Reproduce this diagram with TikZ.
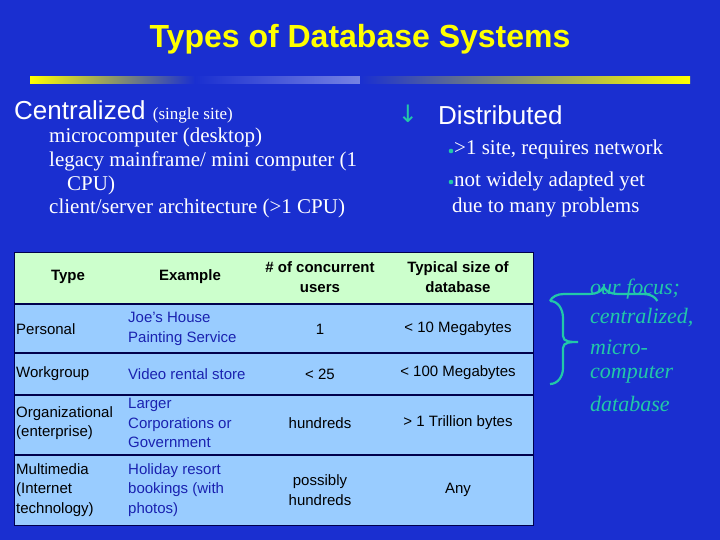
\documentclass[tikz,border=0pt]{standalone}
\usepackage{fontspec}
\setmainfont{Liberation Serif}
\setsansfont{Liberation Sans}
\newfontfamily\dejavu{DejaVu Sans}
\usetikzlibrary{decorations.pathreplacing}
\definecolor{bg}{HTML}{1A2FD0}
\definecolor{ttl}{HTML}{FFFF00}
\definecolor{teal2}{HTML}{22C8A8}
\definecolor{hdr}{HTML}{CCFFCC}
\definecolor{cell}{HTML}{99CCFF}
\definecolor{ex}{HTML}{1A22B0}
\tikzset{
 serifline/.style={anchor=west,text=white,font=\fontsize{21}{22}\selectfont,inner sep=0},
 tc/.style={font=\sffamily\fontsize{15}{19.5}\selectfont,text=black,inner sep=0,align=left},
 tcc/.style={font=\sffamily\fontsize{15}{19.5}\selectfont,text=black,inner sep=0,align=center},
 th/.style={font=\sffamily\bfseries\fontsize{15}{19.5}\selectfont,text=black,inner sep=0,align=center},
 rowline/.style={draw=black!70!blue,line width=1.2pt},
 focus/.style={anchor=west,text=teal2,font=\itshape\fontsize{22}{24}\selectfont,inner sep=0}
}
\begin{document}
\begin{tikzpicture}[x=1pt,y=-1pt]
\fill[bg] (0,0) rectangle (720,540);
\useasboundingbox (0,0) rectangle (720,540);
\node[text=ttl,font=\sffamily\bfseries\fontsize{32}{34}\selectfont] (title) at (360,39) {Types of Database Systems};
\shade[left color=ttl,right color=bg!60!white,middle color=bg] (30,77) rectangle (360,84);
\shade[left color=bg,right color=ttl] (360,77) rectangle (690,84);
% left
\node[anchor=west,text=white,inner sep=0] (cent) at (14,112) {\sffamily\fontsize{26}{28}\selectfont Centralized \rmfamily\fontsize{17}{18}\selectfont(single site)};
\node[serifline] (l1) at (49,137) {microcomputer (desktop)};
\node[serifline] (l2) at (49,161) {legacy mainframe/ mini computer (1};
\node[serifline] (l3) at (67,185) {CPU)};
\node[serifline] (l4) at (49,208) {client/server architecture (>1 CPU)};
% right
\node[text=teal2,font=\dejavu\fontsize{24}{26}\selectfont,inner sep=0] (arr) at (408,114) {↓};
\node[anchor=west,text=white,font=\sffamily\fontsize{26}{28}\selectfont,inner sep=0] (dist) at (438,115) {Distributed};
\fill[teal2] (451,151) circle (2.3);
\fill[teal2] (451,182) circle (2.3);
\node[serifline] (r1) at (454,149) {>1 site, requires network};
\node[serifline] (r2) at (454,181) {not widely adapted yet};
\node[serifline] (r3) at (452,207) {due to many problems};
% table
\fill[hdr] (14,252) rectangle (533,304);
\fill[cell] (14,304) rectangle (533,525);
\draw[rowline] (14,304) -- (533,304);
\draw[rowline] (14,353) -- (533,353);
\draw[rowline] (14,395) -- (533,395);
\draw[rowline] (14,455) -- (533,455);
\draw[draw=black!70!blue,line width=1pt] (14,252) rectangle (533,525);
\node[th] (h1) at (68,277) {Type};
\node[th] (h2) at (190,277) {Example};
\node[th] (h3) at (320,277) {\# of concurrent\\users};
\node[th] (h4) at (458,277) {Typical size of\\database};
\node[tc,anchor=west] (a1) at (16,329) {Personal};
\node[tc,anchor=west,text=ex] (b1) at (128,329) {Joe's House\\Painting Service};
\node[tcc] (c1) at (320,329) {1};
\node[tcc] (d1) at (458,329) {< 10 Megabytes};
\node[tc,anchor=west] (a2) at (16,374) {Workgroup};
\node[tc,anchor=west,text=ex] (b2) at (128,374) {Video rental store};
\node[tcc] (c2) at (320,374) {< 25};
\node[tcc] (d2) at (458,373) {< 100 Megabytes};
\node[tc,anchor=west] (a3) at (16,423) {Organizational\\(enterprise)};
\node[tc,anchor=west,text=ex] (b3) at (128,423) {Larger\\Corporations or\\Government};
\node[tcc] (c3) at (320,423) {hundreds};
\node[tcc] (d3) at (458,423) {> 1 Trillion bytes};
\node[tc,anchor=west] (a4) at (16,490) {Multimedia\\(Internet\\technology)};
\node[tc,anchor=west,text=ex] (b4) at (128,490) {Holiday resort\\bookings (with\\photos)};
\node[tcc] (c4) at (320,490) {possibly\\hundreds};
\node[tcc] (d4) at (458,490) {Any};
% brace
\coordinate (bt) at (550,301);
\coordinate (bb) at (550,384);
\draw[teal2,line width=2.2pt,decorate,decoration={brace,amplitude=14pt}] (bt) -- ++(12,0) to[out=0,in=90] (bb) ;
\draw[teal2,line width=2.2pt] (550,301) to[out=0,in=90] (563,318) -- (563,336) to[out=-90,in=180] (578,342) to[out=180,in=90] (563,348) -- (563,368) to[out=-90,in=0] (550,384);
\node[focus] (f1) at (590,289) {our focus;};
\node[focus] (f2) at (590,318) {centralized,};
\node[focus] (f3) at (590,347) {micro-};
\node[focus] (f4) at (590,375) {computer};
\node[focus] (f5) at (590,404) {database};
\end{tikzpicture}
\end{document}
